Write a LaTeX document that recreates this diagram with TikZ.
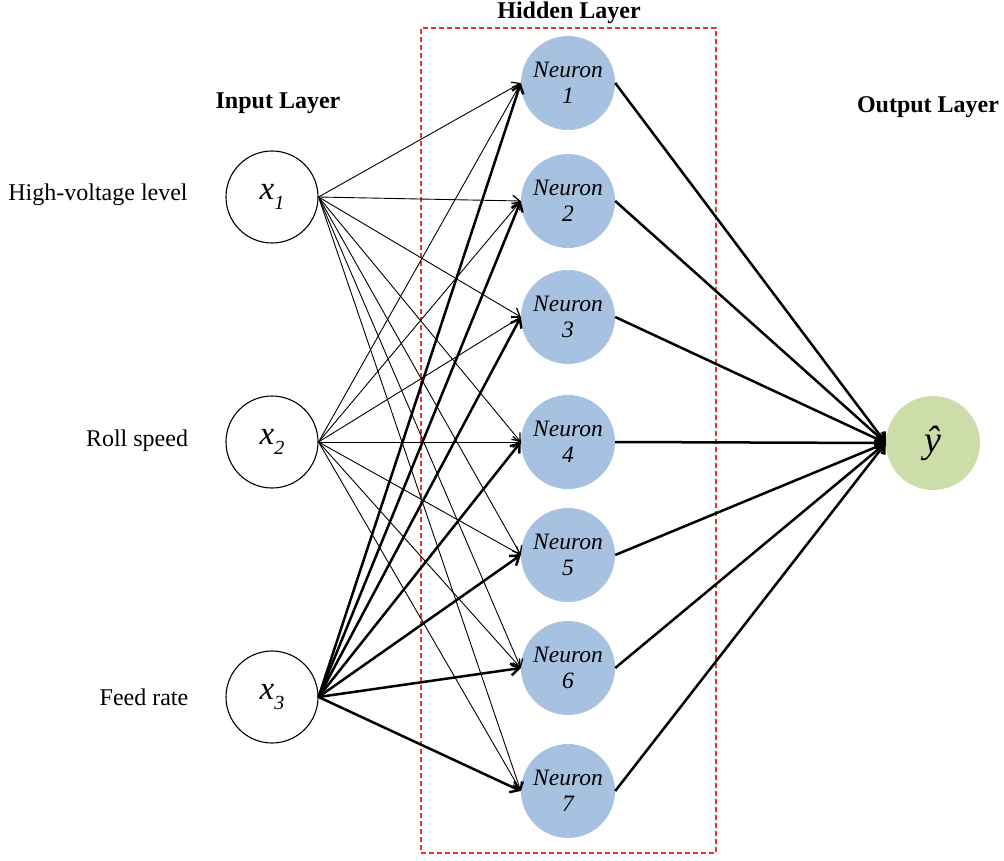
\documentclass[tikz,border=0pt]{standalone}
\usepackage{fontspec}
\setmainfont{Liberation Serif}
\usetikzlibrary{arrows.meta}
\definecolor{neuronblue}{HTML}{A7C1E0}
\definecolor{outgreen}{HTML}{CCDDAA}
\definecolor{boxred}{HTML}{EE3322}
\newcommand{\invar}[1]{\textit{x}\raisebox{-0.3em}{\fontsize{20}{22}\selectfont\textit{#1}}}
\begin{document}
\begin{tikzpicture}[x=1pt,y=-1pt,
  inputnode/.style={circle,draw=black,line width=1.1pt,minimum size=92pt,inner sep=0pt,font=\fontsize{33}{35}\selectfont},
  neuronnode/.style={circle,fill=neuronblue,minimum size=94pt,inner sep=0pt,align=center,font=\fontsize{23.5}{26}\selectfont\itshape},
  outnode/.style={circle,fill=outgreen,minimum size=94pt,inner sep=0pt,font=\fontsize{38}{40}\selectfont\itshape},
  labeltext/.style={font=\fontsize{24}{26}\selectfont},
  titletext/.style={font=\fontsize{24}{26}\selectfont\bfseries},
  thinarrow/.style={-{Straight Barb[length=7pt,width=11pt,line width=1.3pt]},line width=0.9pt},
  thickarrow/.style={-{Straight Barb[length=8pt,width=12pt,line width=2.4pt]},line width=2.5pt},
  hiddenbox/.style={draw=boxred,line width=1.1pt,dash pattern=on 5pt off 3pt}
]
\useasboundingbox (0,0) rectangle (1004,861);
% hidden layer box
\node[hiddenbox,minimum width=295pt,minimum height=825pt,inner sep=0pt] (box) at (568.5,440.5) {};
\node[titletext] (htitle) at (569,13) {Hidden Layer};
\node[titletext] (ititle) at (278,103) {Input Layer};
\node[titletext] (otitle) at (928,107) {Output Layer};
% input nodes
\node[inputnode] (x1) at (272,197) {\invar{1}};
\node[inputnode] (x2) at (272,442) {\invar{2}};
\node[inputnode] (x3) at (272,697) {\invar{3}};
\node[labeltext] (l1) at (98,195) {High-voltage level};
\node[labeltext] (l2) at (137,441) {Roll speed};
\node[labeltext] (l3) at (144,697) {Feed rate};
% neurons
\node[neuronnode] (n1) at (568,83) {Neuron\\1};
\node[neuronnode] (n2) at (568,201) {Neuron\\2};
\node[neuronnode] (n3) at (568,317) {Neuron\\3};
\node[neuronnode] (n4) at (568,442) {Neuron\\4};
\node[neuronnode] (n5) at (568,555) {Neuron\\5};
\node[neuronnode] (n6) at (568,668) {Neuron\\6};
\node[neuronnode] (n7) at (568,791) {Neuron\\7};
% output
\node[outnode] (y) at (933,443) {ŷ};
% connections
\foreach \n in {1,...,7}{
  \draw[thinarrow] (x1.east) -- (n\n.west);
  \draw[thinarrow] (x2.east) -- (n\n.west);
  \draw[thickarrow] (x3.east) -- (n\n.west);
  \draw[thickarrow] (n\n.east) -- (y.west);
}
\end{tikzpicture}
\end{document}
